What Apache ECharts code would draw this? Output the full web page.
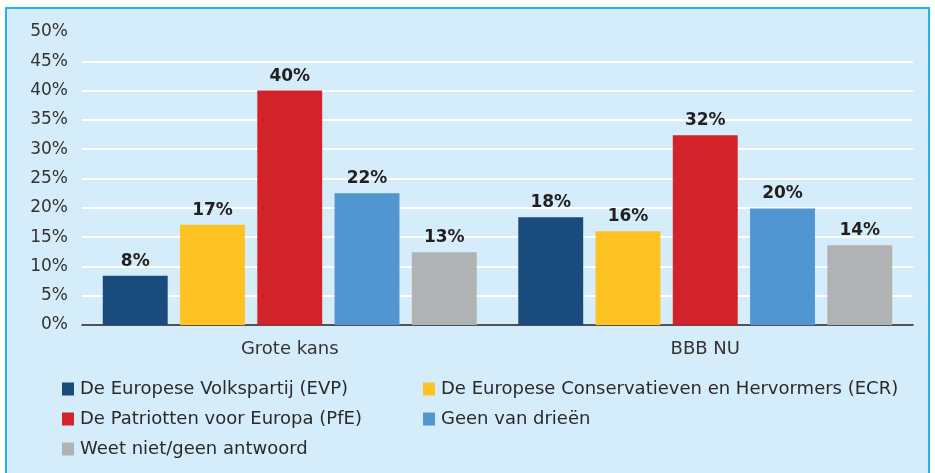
<!DOCTYPE html>
<html>
<head>
<meta charset="utf-8">
<script src="https://cdn.jsdelivr.net/npm/echarts@6/dist/echarts.min.js"></script>
<style>
    html, body { margin: 0; padding: 0; background: #fff; }
    .frame {
        position: absolute; left: 5px; top: 7px; width: 925px; height: 480px;
        background: #d5edfa; border: 2px solid #22b4ef; box-sizing: border-box;
    }
    #chart { position: absolute; left: 0; top: 0; width: 935px; height: 473px; }
</style>
</head>
<body>
<div class="frame"></div>
<div id="chart"></div>
<script>
const categories = ['Grote kans', 'BBB NU']
const seriesNames = [
    'De Europese Volkspartij (EVP)',
    'De Europese Conservatieven en Hervormers (ECR)',
    'De Patriotten voor Europa (PfE)',
    'Geen van drieën',
    'Weet niet/geen antwoord',
]
const colors = ['#1a4b7d', '#fec323', '#d2232a', '#5196d1', '#b1b2b4']

// bar heights, per series: [Grote kans, BBB NU]
const evp = [8.4, 18.4]
const ecr = [17.1, 16.0]
const pfe = [40.0, 32.4]
const geen = [22.5, 19.9]
const weet = [12.4, 13.6]
const values = [evp, ecr, pfe, geen, weet]

// printed labels
const evpLabels = [8, 18]
const ecrLabels = [17, 16]
const pfeLabels = [40, 32]
const geenLabels = [22, 20]
const weetLabels = [13, 14]
const labels = [evpLabels, ecrLabels, pfeLabels, geenLabels, weetLabels]

const yTicks = [0, 5, 10, 15, 20, 25, 30, 35, 40, 45, 50]

const font = 'DejaVu Sans'
const chart = echarts.init(document.getElementById('chart'))

const legendBase = {
    orient: 'vertical',
    icon: 'rect',
    itemWidth: 12,
    itemHeight: 13,
    itemGap: 12,
    top: 380,
    padding: 0,
    selectedMode: false,
    textStyle: { fontFamily: font, fontSize: 18, color: '#2a2a2a', padding: [0, 0, 0, 1] },
}

chart.setOption({
    animation: false,
    textStyle: { fontFamily: font },
    grid: { left: 82, right: 22, top: 32, bottom: 148 },
    legend: [
        { ...legendBase, left: 62, data: [seriesNames[0], seriesNames[2], seriesNames[4]] },
        { ...legendBase, left: 423, data: [seriesNames[1], seriesNames[3]] },
    ],
    xAxis: {
        type: 'category',
        data: categories,
        axisLine: { lineStyle: { color: '#1a1a1a', width: 1.5 } },
        axisTick: { show: false },
        axisLabel: { color: '#333', fontSize: 18, margin: 15 },
    },
    yAxis: {
        type: 'value',
        min: 0,
        max: 50,
        interval: 5,
        axisLine: { show: false },
        axisTick: { show: false },
        axisLabel: {
            color: '#333',
            fontSize: 17,
            margin: 14,
            formatter: (v) => yTicks.includes(v) ? v + '%' : '',
        },
        splitLine: {
            lineStyle: {
                width: 2,
                color: yTicks.map((v) => v === 50 ? 'rgba(0,0,0,0)' : '#ffffff'),
            },
        },
    },
    series: seriesNames.map((name, i) => ({
        name,
        type: 'bar',
        data: values[i],
        barGap: '19%',
        barCategoryGap: '10%',
        itemStyle: { color: colors[i] },
        label: {
            show: true,
            position: 'top',
            distance: 6,
            color: '#231f20',
            fontSize: 17,
            fontWeight: 'bold',
            fontFamily: font,
            formatter: (p) => labels[i][p.dataIndex] + '%',
        },
    })),
})
</script>
</body>
</html>
